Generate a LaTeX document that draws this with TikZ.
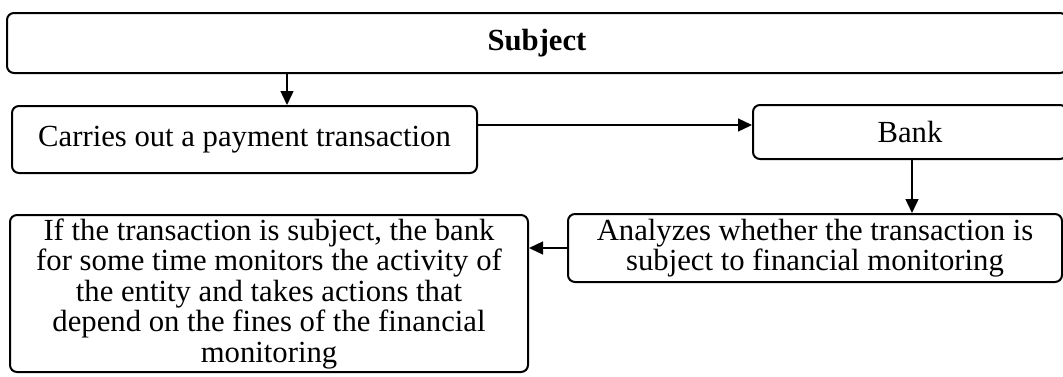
\documentclass[tikz,border=0pt]{standalone}
\usepackage{fontspec}
\setmainfont{Liberation Serif}
\usetikzlibrary{arrows.meta}
\begin{document}
\begin{tikzpicture}[x=1pt,y=-1pt,
  box/.style={draw, line width=2pt, rounded corners=7pt, align=center, inner sep=0pt,
    font=\fontsize{30.7}{30.5}\selectfont},
  conn/.style={line width=1.4pt, -{Triangle[length=14pt,width=13pt]}}]
\useasboundingbox (0,0) rectangle (1063,376);
\node[box, minimum width=1060pt, minimum height=60pt,
  font=\fontsize{30.7}{30.5}\selectfont\bfseries] (subject) at (537,43) {Subject};
\node[box, minimum width=465pt, minimum height=67pt] (carries) at (244.5,139.5)
  {Carries out a payment transaction};
\node[box, minimum width=314pt, minimum height=54pt] (bank) at (910,132) {Bank};
\node[box, minimum width=494pt, minimum height=68pt] (analyzes) at (815,248)
  {Analyzes whether the transaction is\\subject to financial monitoring};
\node[box, minimum width=518pt, minimum height=157pt] (monitor) at (269,293.5)
  {If the transaction is subject, the bank\\for some time monitors the activity of\\the entity and takes actions that\\depend on the fines of the financial\\monitoring};
\coordinate (xa) at (287,0);
\coordinate (yb) at (0,125);
\coordinate (xc) at (912,0);
\draw[conn] (subject.south -| xa) -- (carries.north -| xa);
\draw[conn] (carries.east |- yb) -- (bank.west |- yb);
\draw[conn] (bank.south -| xc) -- (analyzes.north -| xc);
\draw[conn] (analyzes.west) -- (monitor.east |- analyzes.west);
\end{tikzpicture}
\end{document}
